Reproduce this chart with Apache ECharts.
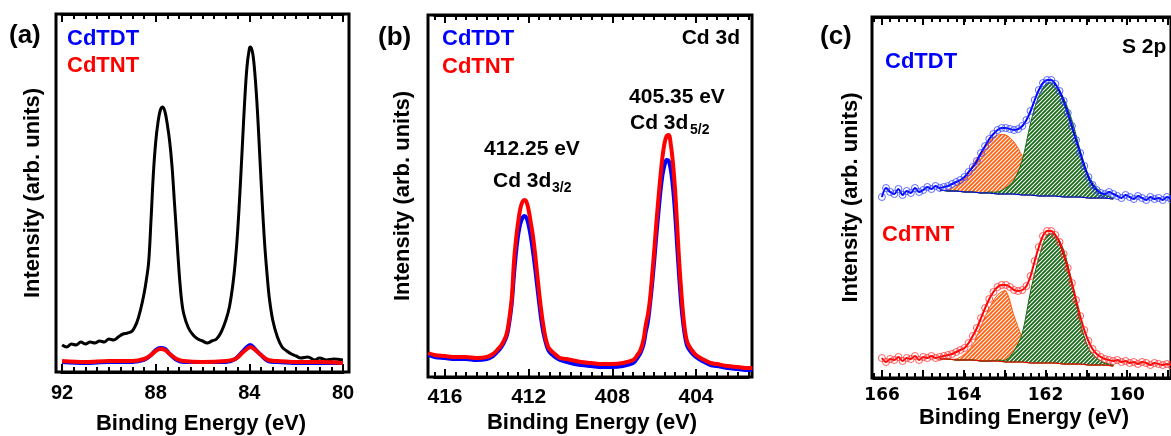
<!DOCTYPE html>
<html>
<head>
<meta charset="utf-8">
<script src="https://cdn.jsdelivr.net/npm/echarts@6/dist/echarts.min.js"></script>
<style>
  html, body { margin: 0; padding: 0; background: #fff; }
  #main { width: 1171px; height: 436px; }
</style>
</head>
<body>
<div id="main"></div>
<script>
// ---- panel (a): Cd 4f region, [binding energy, intensity]
const aBlack = [[92.0,27],[91.8,25],[91.6,28],[91.4,27],[91.2,30],[91.0,28],[90.8,30],[90.6,29],[90.4,31],[90.2,30],[90.0,33],[89.8,32],[89.6,35],[89.4,38],[89.2,39],[89.0,41],[88.8,50],[88.65,62],[88.5,78],[88.4,92],[88.3,110],[88.2,152],[88.1,198],[88.0,230],[87.9,250],[87.8,262],[87.7,265],[87.6,260],[87.5,247],[87.4,230],[87.3,205],[87.2,170],[87.1,135],[87.0,100],[86.9,73],[86.8,58],[86.6,44],[86.4,37],[86.2,33],[86.0,31],[85.8,29],[85.6,31],[85.4,33],[85.2,40],[85.0,52],[84.85,65],[84.7,88],[84.6,110],[84.5,140],[84.4,180],[84.3,225],[84.2,270],[84.1,305],[84.0,323],[83.95,325],[83.85,318],[83.75,295],[83.65,260],[83.55,215],[83.45,170],[83.35,130],[83.25,100],[83.15,75],[83.0,52],[82.8,35],[82.6,25],[82.4,21],[82.2,18],[82.0,16],[81.8,14],[81.5,15],[81.2,12],[81.0,14],[80.7,12],[80.4,13],[80.0,12]];
const aTDT = [[92.0,10],[91.0,9],[90.0,10],[89.0,10],[88.5,12],[88.2,17],[88.0,22],[87.8,24],[87.6,23],[87.4,18],[87.1,12],[86.8,10],[86.0,10],[85.0,10],[84.6,13],[84.3,20],[84.1,25],[83.95,27],[83.8,24],[83.5,17],[83.2,11],[82.8,10],[82.0,9],[81.0,9],[80.0,9]];
const aTNT = [[92.0,11],[91.0,10],[90.0,11],[89.0,11],[88.5,13],[88.2,17],[88.0,21],[87.8,23],[87.6,22],[87.4,18],[87.1,13],[86.8,11],[86.0,10],[85.0,11],[84.6,13],[84.3,19],[84.1,23],[83.95,25],[83.8,23],[83.5,17],[83.2,12],[82.8,11],[82.0,10],[81.0,10],[80.0,9]];

// ---- panel (b): Cd 3d
const bTDT = [[416.8,22],[416.5,20],[416.0,19],[415.5,18],[415.0,18],[414.5,17],[414.0,18],[413.7,21],[413.5,25],[413.3,30],[413.1,38],[413.0,45],[412.9,58],[412.8,75],[412.7,102],[412.6,125],[412.5,142],[412.4,153],[412.3,159],[412.2,161],[412.1,159],[412.0,152],[411.9,141],[411.8,127],[411.7,111],[411.6,93],[411.5,75],[411.4,58],[411.3,45],[411.2,36],[411.1,29],[411.0,25],[410.8,21],[410.5,17],[410.0,14],[409.5,12],[409.0,11],[408.5,10],[408.0,10],[407.5,11],[407.0,14],[406.8,19],[406.65,24],[406.5,33],[406.4,45],[406.3,55],[406.2,72],[406.1,92],[406.0,115],[405.9,140],[405.8,163],[405.7,185],[405.6,202],[405.5,212],[405.4,217],[405.3,216],[405.2,207],[405.1,190],[405.0,165],[404.9,132],[404.8,100],[404.7,72],[404.6,52],[404.5,38],[404.4,30],[404.2,24],[404.0,20],[403.7,16],[403.3,12],[403.0,11],[402.5,9],[402.0,8],[401.5,7],[401.3,7]];
const bTNT = [[416.8,24],[416.5,22],[416.0,21],[415.5,20],[415.0,20],[414.5,19],[414.0,20],[413.7,23],[413.5,27],[413.3,32],[413.1,40],[413.0,48],[412.9,62],[412.8,80],[412.7,115],[412.6,138],[412.5,155],[412.4,168],[412.3,175],[412.2,177],[412.1,175],[412.0,167],[411.9,155],[411.8,142],[411.7,125],[411.6,105],[411.5,85],[411.4,67],[411.3,52],[411.2,40],[411.1,32],[411.0,28],[410.8,24],[410.5,19],[410.2,18],[409.5,15],[409.0,14],[408.5,13],[408.0,13],[407.5,14],[407.0,17],[406.8,22],[406.65,27],[406.5,38],[406.4,52],[406.3,62],[406.2,77],[406.1,100],[406.0,125],[405.9,152],[405.8,177],[405.7,200],[405.6,220],[405.5,234],[405.4,241],[405.3,242],[405.2,232],[405.1,214],[405.0,188],[404.9,152],[404.8,115],[404.7,85],[404.6,60],[404.5,43],[404.4,34],[404.2,27],[404.0,22],[403.7,18],[403.3,14],[403.0,13],[402.5,11],[402.0,10],[401.5,9],[401.3,9]];

// ---- panel (c): S 2p, measured points
const cTDT = [[166.0,181],[165.9,190],[165.8,186],[165.7,184],[165.6,189],[165.5,183],[165.4,187],[165.3,185],[165.2,190],[165.1,186],[165.0,188],[164.9,191],[164.8,189],[164.7,192],[164.6,190],[164.5,191],[164.4,192],[164.3,194],[164.2,196],[164.1,198],[164.0,201],[163.9,206],[163.8,211],[163.7,217],[163.6,225],[163.5,232],[163.4,239],[163.3,244],[163.2,248],[163.1,250],[163.0,250],[162.9,249],[162.8,248],[162.7,249],[162.6,252],[162.5,258],[162.4,267],[162.3,278],[162.2,288],[162.1,295],[162.0,298],[161.9,298],[161.8,294],[161.7,287],[161.6,277],[161.5,265],[161.4,252],[161.3,238],[161.2,225],[161.1,212],[161.0,201],[160.9,193],[160.8,188],[160.7,185],[160.6,184],[160.5,186],[160.4,184],[160.3,182],[160.2,180],[160.1,183],[160.0,181],[159.9,179],[159.8,182],[159.7,180],[159.6,178],[159.5,181],[159.4,179],[159.3,180],[159.2,178],[159.1,181],[159.0,179]];
const cTNT = [[166.0,20],[165.9,16],[165.8,19],[165.7,18],[165.6,21],[165.5,17],[165.4,20],[165.3,19],[165.2,22],[165.1,18],[165.0,21],[164.9,20],[164.8,22],[164.7,20],[164.6,21],[164.5,22],[164.4,23],[164.3,24],[164.2,26],[164.1,28],[164.0,30],[163.9,35],[163.8,42],[163.7,50],[163.6,60],[163.5,70],[163.4,79],[163.3,86],[163.2,91],[163.1,93],[163.0,93],[162.9,91],[162.8,88],[162.7,87],[162.6,88],[162.5,92],[162.4,102],[162.3,117],[162.2,131],[162.1,142],[162.0,147],[161.9,147],[161.8,143],[161.7,136],[161.6,124],[161.5,110],[161.4,95],[161.3,78],[161.2,62],[161.1,48],[161.0,37],[160.9,29],[160.8,24],[160.7,21],[160.6,19],[160.5,18],[160.4,17],[160.3,18],[160.2,16],[160.1,17],[160.0,15],[159.9,16],[159.8,14],[159.7,16],[159.6,15],[159.5,13],[159.4,15],[159.3,14],[159.2,13],[159.1,14],[159.0,13]];

// fitted components (heights above the fit baseline)
const cFitE      = [164.6,164.4,164.2,164.0,163.8,163.6,163.4,163.2,163.0,162.8,162.6,162.4,162.2,162.0,161.8,161.6,161.4,161.2,161.0,160.8,160.6,160.4];
const cTopBase   = [188,187,187,186,186,185,185,184,184,184,183,183,182,182,182,181,181,181,180,180,180,179];
const cTopOrange = [0,1,6,15,27,41,52,59,59,52,39,25,15,8,4,2,1,0,0,0,0,0];
const cTopGreen  = [0,0,0,0,0,0,1,2,6,14,35,72,100,113,111,99,77,47,23,10,3,1];
const cBotBase   = [19,19,18,18,18,17,17,17,16,16,16,15,15,15,15,14,14,14,13,13,13,12];
const cBotOrange = [0,0,1,6,15,35,53,66,71,46,24,11,4,1,0,0,0,0,0,0,0,0];
const cBotGreen  = [0,0,0,0,0,0,0,1,2,11,29,72,105,128,128,114,82,42,17,7,2,1];

const FONT = '"Liberation Sans", Arial, sans-serif';
const BLUE = '#0000ff';
const RED = '#ff0000';
const ORANGE = '#ff6010';
const GREEN = '#176a17';

function hatch(color) {
  const c = document.createElement('canvas');
  c.width = 4; c.height = 4;
  const ctx = c.getContext('2d');
  ctx.fillStyle = '#ffffff';
  ctx.fillRect(0, 0, 4, 4);
  ctx.strokeStyle = color;
  ctx.lineWidth = 1.8;
  ctx.beginPath();
  ctx.moveTo(-1, 5); ctx.lineTo(5, -1);
  ctx.moveTo(-1, 1); ctx.lineTo(1, -1);
  ctx.moveTo(3, 5); ctx.lineTo(5, 3);
  ctx.stroke();
  return c;
}

// frame grids (data) and tick grids (aligned to tick values)
const frames = [
  { left: 56, top: 14, width: 293, height: 358 },
  { left: 428, top: 15, width: 324, height: 362 },
  { left: 872, top: 17, width: 306, height: 361 }
];
const tickGrids = [
  // [frame, left, width, min, max, interval, tickLength, labels]
  [0, 62, 281, 80, 92, 4, 8, true],
  [0, 62, 281, 80, 92, 0.5, 5, false],
  [1, 445, 251, 404, 416, 4, 8, true],
  [1, 434.5, 313.8, 401.5, 416.5, 0.5, 5, false],
  [2, 882.1, 295.9, 159, 166, 1, 8, true],
  [2, 873.7, 304.3, 159, 166.2, 0.2, 5, false]
];
const labelFonts = [
  { fontFamily: FONT, fontSize: 20, margin: 11 },
  { fontFamily: FONT, fontSize: 21, margin: 10 },
  { fontFamily: '"DejaVu Sans", sans-serif', fontSize: 17, margin: 9 }
];
const frameRange = [[79.74, 92.26], [401.32, 416.81], [159, 166.24]];
const frameYMax = [358, 362, 361];
const yNameGap = [12, 14, 10];

const grids = [];
const xAxes = [];
const yAxes = [];

frames.forEach((f, i) => {
  grids.push(Object.assign({ show: true, borderColor: '#000', borderWidth: 3, backgroundColor: 'transparent' }, f));
  xAxes.push({
    type: 'value', gridIndex: i, min: frameRange[i][0], max: frameRange[i][1], inverse: true,
    axisLine: { show: false }, axisTick: { show: false }, axisLabel: { show: false }, splitLine: { show: false }
  });
  yAxes.push({
    type: 'value', gridIndex: i, min: 0, max: frameYMax[i],
    axisLine: { show: false }, axisTick: { show: false }, axisLabel: { show: false }, splitLine: { show: false },
    name: 'Intensity (arb. units)', nameLocation: 'middle', nameGap: yNameGap[i],
    nameTextStyle: { fontFamily: FONT, fontSize: 22, fontWeight: 'bold', color: '#000' }
  });
});

tickGrids.forEach((t) => {
  const [fi, left, width, min, max, interval, len, labels] = t;
  const f = frames[fi];
  const gi = grids.length;
  grids.push({ show: false, left: left, width: width, top: f.top, height: f.height });
  yAxes.push({ type: 'value', gridIndex: gi, min: 0, max: 1, show: false });
  ['bottom', 'top'].forEach((pos) => {
    xAxes.push({
      type: 'value', gridIndex: gi, position: pos, min: min, max: max, interval: interval, inverse: true,
      axisLine: { show: true, onZero: false, lineStyle: { color: '#000', width: 3 } },
      axisTick: { show: true, inside: true, length: len, lineStyle: { color: '#000', width: 2 } },
      axisLabel: (labels && pos === 'bottom') ? Object.assign({
        show: true, color: '#000', fontWeight: 'bold',
        formatter: (v) => (fi === 2 && v % 2 !== 0 ? '' : String(v))
      }, labelFonts[fi]) : { show: false },
      splitLine: { show: false }
    });
  });
});

function curve(xi, data, color, width) {
  return {
    type: 'line', xAxisIndex: xi, yAxisIndex: xi, data: data,
    showSymbol: false, smooth: 0.35,
    lineStyle: { color: color, width: width }
  };
}

function baseLine(data, color) {
  return {
    type: 'line', xAxisIndex: 2, yAxisIndex: 2, data: data,
    showSymbol: false, lineStyle: { color: color, width: 1 }
  };
}

function fill(base, comp, color) {
  const pattern = { image: hatch(color), repeat: 'repeat' };
  return {
    type: 'custom', xAxisIndex: 2, yAxisIndex: 2,
    data: cFitE.map((e, i) => [e, base[i], base[i] + comp[i]]),
    encode: { x: 0, y: [1, 2] },
    renderItem: (params, api) => {
      if (params.dataIndexInside !== 0) return null;
      const n = params.dataInsideLength;
      const top = [];
      const bot = [];
      for (let i = 0; i < n; i++) {
        top.push(api.coord([api.value(0, i), api.value(2, i)]));
        bot.unshift(api.coord([api.value(0, i), api.value(1, i)]));
      }
      return {
        type: 'polygon',
        shape: { points: top.concat(bot), smooth: 0.3 },
        style: { fill: pattern, stroke: color, lineWidth: 1 }
      };
    }
  };
}

function dots(data, color, ring) {
  return {
    type: 'line', xAxisIndex: 2, yAxisIndex: 2, data: data,
    symbol: 'circle', symbolSize: 7, showAllSymbol: true, smooth: 0.3,
    itemStyle: { color: 'rgba(255,255,255,0)', borderColor: ring, borderWidth: 1 },
    lineStyle: { color: color, width: 2 },
    z: 5
  };
}

function label(text, x, y, color, size, align) {
  return {
    type: 'text', x: x, y: y,
    style: {
      text: text, fill: color, font: 'bold ' + size + 'px ' + FONT,
      align: align || 'left', verticalAlign: 'middle'
    }
  };
}

const chart = echarts.init(document.getElementById('main'));

chart.setOption({
  animation: false,
  grid: grids,
  xAxis: xAxes,
  yAxis: yAxes,
  series: [
    curve(0, aBlack, '#000000', 3),
    curve(0, aTDT, BLUE, 4),
    curve(0, aTNT, RED, 4),
    curve(1, bTDT, BLUE, 4),
    curve(1, bTNT, RED, 4),
    fill(cTopBase, cTopOrange, ORANGE),
    fill(cTopBase, cTopGreen, GREEN),
    baseLine(cFitE.map((e, i) => [e, cTopBase[i]]), BLUE),
    fill(cBotBase, cBotOrange, ORANGE),
    fill(cBotBase, cBotGreen, GREEN),
    baseLine(cFitE.map((e, i) => [e, cBotBase[i]]), RED),
    dots(cTDT, BLUE, 'rgba(40,60,255,0.75)'),
    dots(cTNT, RED, 'rgba(255,40,40,0.75)')
  ],
  graphic: [
    label('(a)', 9, 36, '#000', 26),
    label('CdTDT', 67, 39, BLUE, 22),
    label('CdTNT', 67, 66, RED, 22),
    label('Binding Energy (eV)', 201, 424, '#000', 22, 'center'),
    label('(b)', 378, 38, '#000', 26),
    label('CdTDT', 442, 39, BLUE, 22),
    label('CdTNT', 442, 67, RED, 22),
    label('Cd 3d', 740, 38, '#000', 21, 'right'),
    label('412.25 eV', 532, 149, '#000', 21, 'center'),
    label('Cd 3d', 493, 181, '#000', 21),
    label('3/2', 552, 188, '#000', 14),
    label('405.35 eV', 677, 97, '#000', 21, 'center'),
    label('Cd 3d', 630, 123, '#000', 21),
    label('5/2', 690, 130, '#000', 14),
    label('Binding Energy (eV)', 592, 423, '#000', 22, 'center'),
    label('(c)', 820, 37, '#000', 26),
    label('CdTDT', 885, 62, BLUE, 22),
    label('CdTNT', 882, 235, RED, 22),
    label('S 2p', 1122, 47, '#000', 21),
    label('Binding Energy (eV)', 1024, 418, '#000', 22, 'center')
  ]
});

window.addEventListener('resize', () => chart.resize());
</script>
</body>
</html>
